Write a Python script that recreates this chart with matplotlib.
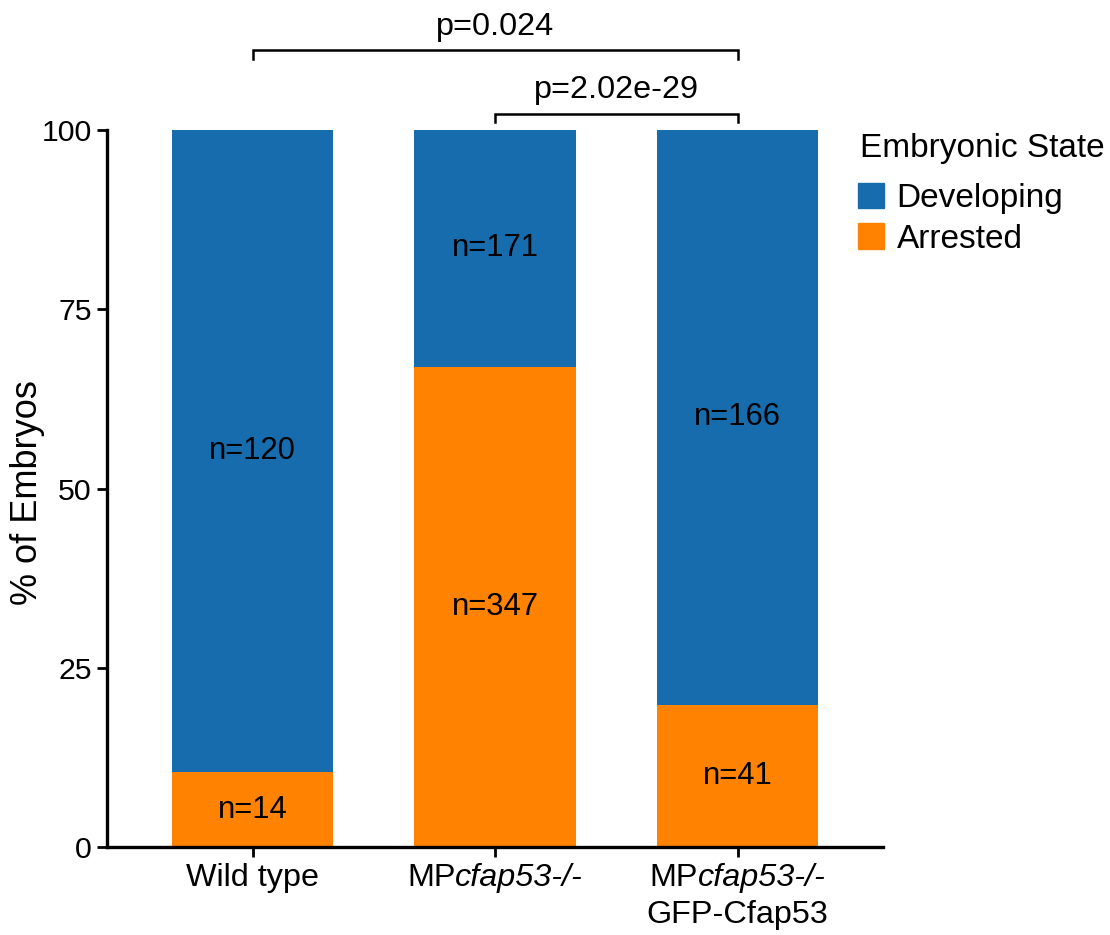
import matplotlib
matplotlib.use("Agg")
import matplotlib.pyplot as plt
import numpy as np
from matplotlib.patches import Patch
from matplotlib.transforms import offset_copy

plt.rcParams["font.family"] = ["Liberation Sans", "DejaVu Sans"]

# embryo counts per genotype
group_parts = [
    [[("Wild type", "normal")]],
    [[("MP", "normal"), ("cfap53-/-", "italic")]],
    [[("MP", "normal"), ("cfap53-/-", "italic")], [("GFP-Cfap53", "normal")]],
]
developing = [120, 171, 166]
arrested = [14, 347, 41]
states = ["Developing", "Arrested"]
colors = {"Developing": "#176CAE", "Arrested": "#FF8300"}

# significance brackets: (left group, right group, label)
comparisons = [(0, 2, "p=0.024"), (1, 2, "p=2.02e-29")]
bracket_y = [111.1, 102.3]

dev = np.array(developing, dtype=float)
arr = np.array(arrested, dtype=float)
total = dev + arr
arr_pct = arr / total * 100
dev_pct = dev / total * 100
x = np.arange(len(developing))

fig = plt.figure(figsize=(11.1, 9.35), dpi=100)
ax = fig.add_axes([107 / 1110, 88 / 935, 776 / 1110, 717 / 935])

ax.bar(x, arr_pct, width=0.667, color=colors["Arrested"])
ax.bar(x, dev_pct, width=0.667, bottom=arr_pct, color=colors["Developing"])

for i in range(len(x)):
    ax.text(x[i], arr_pct[i] / 2, f"n={arrested[i]}", ha="center", va="center", fontsize=22.3)
    ax.text(x[i], arr_pct[i] + dev_pct[i] / 2, f"n={developing[i]}", ha="center", va="center", fontsize=22.3)

ax.set_xlim(-0.6, 2.6)
ax.set_ylim(0, 100)
ax.set_yticks([0, 25, 50, 75, 100])
ax.set_xticks(x)
ax.set_xticklabels([])
ax.tick_params(axis="both", length=7, width=2, labelsize=21.8, color="black")
ax.tick_params(axis="y", pad=4)
for side in ["top", "right"]:
    ax.spines[side].set_visible(False)
for side in ["left", "bottom"]:
    ax.spines[side].set_linewidth(2.4)
ax.set_ylabel("% of Embryos", fontsize=26)
ax.yaxis.label.set_va("center")
ax.yaxis.set_label_coords(-0.103, 0.495)

# group labels with italic gene names
fig.canvas.draw()
renderer = fig.canvas.get_renderer()
base = ax.get_xaxis_transform()
for i, lines in enumerate(group_parts):
    for j, parts in enumerate(lines):
        texts = [ax.text(x[i], 0, s, style=st, fontsize=23.3, ha="left", va="baseline", transform=base)
                 for s, st in parts]
        widths = [t.get_window_extent(renderer).width for t in texts]
        cur = -sum(widths) / 2
        for t, w in zip(texts, widths):
            t.set_transform(offset_copy(base, fig=fig, x=cur, y=-39 - 37 * j, units="dots"))
            cur += w

# brackets
for (a, b, label), yb in zip(comparisons, bracket_y):
    ax.plot([x[a], x[a], x[b], x[b]], [yb - 1.25, yb, yb, yb - 1.25], color="black", lw=1.8,
            clip_on=False, solid_joinstyle="miter")
    ax.text((x[a] + x[b]) / 2, yb + 2.2, label, ha="center", va="baseline", fontsize=23.3)

# legend
fig.text(860 / 1110, 1 - 148 / 935, "Embryonic State", fontsize=24, ha="left", va="center")
handles = [Patch(color=colors[s], label=s) for s in states]
ax.legend(handles=handles, fontsize=24, frameon=False,
          loc="upper left", bbox_to_anchor=(858 / 1110, 1 - 183 / 935), bbox_transform=fig.transFigure,
          borderpad=0, borderaxespad=0, handlelength=0.78, handleheight=0.78, handletextpad=0.38,
          labelspacing=0.28)

fig.savefig("out.png", dpi=100)
